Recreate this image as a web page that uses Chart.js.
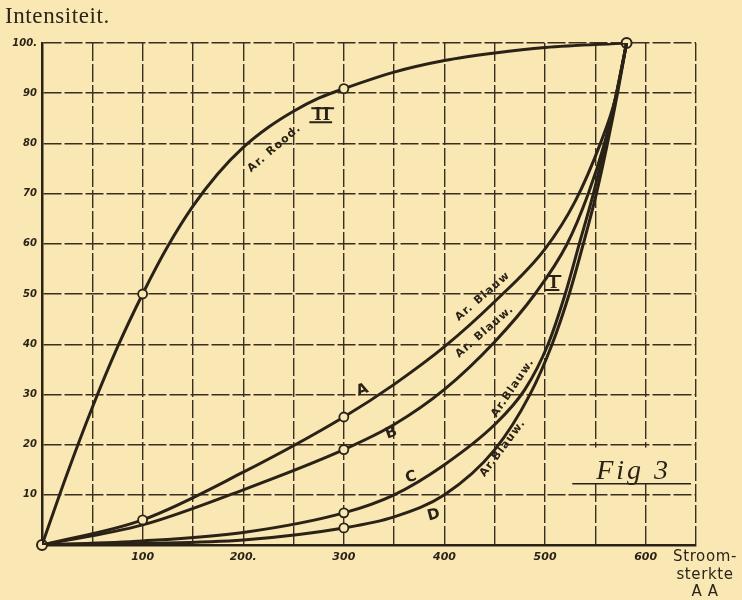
<!DOCTYPE html>
<html>
<head>
<meta charset="utf-8">
<script src="https://cdn.jsdelivr.net/npm/chart.js@4.4.1/dist/chart.umd.min.js"></script>
<style>
  html, body { margin: 0; padding: 0; background: #f9e8b4; }
  #wrap { position: relative; width: 742px; height: 600px; overflow: hidden; }
  #cv { display: block; }
  .txt { position: absolute; color: #2b2419; white-space: nowrap; }
  #ytitle { left: 5px; top: 3px; font: 23px "Liberation Serif", serif; letter-spacing: 0.6px; }
  #xtitle { left: 668px; top: 548px; width: 74px; text-align: center; font: 15px "DejaVu Sans", sans-serif; line-height: 17.5px; letter-spacing: 0.6px; }
</style>
</head>
<body>
<div id="wrap">
  <canvas id="cv" width="742" height="600"></canvas>
  <div class="txt" id="ytitle">Intensiteit.</div>
  <div class="txt" id="xtitle">Stroom-<br>sterkte<br>A A</div>
</div>
<script>
/* ── data: Intensiteit vs Stroomsterkte ── */
const xII = [0, 25, 50, 75, 100, 125, 150, 175, 200, 225, 250, 275, 300, 350, 400, 450, 500, 581];
const yII = [0, 14.2, 27.4, 39.4, 50, 59.5, 67.5, 74, 79.2, 83.2, 86.4, 89, 90.9, 94.2, 96.5, 98, 99.1, 100];
const markII = [100, 300];

const xA = [0, 100, 200, 300, 350, 400, 450, 500, 530, 555, 570, 581];
const yA = [0, 5, 14.5, 25.5, 32, 39.5, 48.5, 59, 68.5, 80, 89, 100];
const markA = [100, 300];

const xB = [0, 100, 200, 300, 350, 400, 450, 490, 522, 543, 559, 571, 581];
const yB = [0, 4, 11, 19, 24, 31, 40.5, 50, 60, 70, 80, 90, 100];
const markB = [300];

const xC = [0, 100, 200, 300, 350, 400, 450, 480, 503, 520, 534, 548, 560, 571, 581];
const yC = [0, 0.8, 2.5, 6.4, 10, 16, 24, 31, 40, 50, 60, 70, 80, 90, 100];
const markC = [300];

const xD = [0, 100, 200, 300, 350, 400, 450, 485, 507, 524, 538, 551, 562, 572, 581];
const yD = [0, 0.3, 1, 3.4, 5.6, 10, 19, 30, 40, 50, 60, 70, 80, 90, 100];
const markD = [300];

// common start / end points of all curves
const endX = [0, 581];
const endY = [0, 100];

// tick labels
const xTickValues = [100, 200, 300, 400, 500, 600];
const xTickText = ['100', '200.', '300', '400', '500', '600'];
const yTickValues = [10, 20, 30, 40, 50, 60, 70, 80, 90, 100];
const yTickText = ['10', '20', '30', '40', '50', '60', '70', '80', '90', '100.'];

/* ── styling ── */
const PAPER = '#f9e8b4';
const INK = '#2b2217';
const GRID = '#3a2e21';
const SMALL = 'bold 11px "DejaVu Sans"';
const LETTER = 'bold 15px "DejaVu Sans"';
const ROMAN = 'bold 19px "Liberation Serif"';

// hand-written notes along the curves (data coords)
const curveLabels = [
  { text: 'Ar. Rood.', x: 231, y: 79, angle: -41, font: SMALL },
  { text: 'II', x: 279, y: 85.6, angle: 0, font: ROMAN, bars: true },
  { text: 'Ar. Blauw', x: 438, y: 49.5, angle: -41, font: SMALL },
  { text: 'I', x: 509, y: 52.2, angle: 0, font: ROMAN, bars: true },
  { text: 'Ar. Blauw.', x: 440, y: 42.5, angle: -41, font: SMALL },
  { text: 'A', x: 319, y: 30.9, angle: -20, font: LETTER },
  { text: 'B', x: 347.6, y: 22.3, angle: -20, font: LETTER },
  { text: 'C', x: 367.4, y: 13.5, angle: -15, font: LETTER },
  { text: 'D', x: 390, y: 6, angle: -15, font: LETTER },
  { text: 'Ar.Blauw.', x: 468, y: 31.3, angle: -56, font: SMALL },
  { text: 'Ar.Blauw.', x: 458, y: 19.3, angle: -53, font: SMALL }
];

/* ── helpers ── */
function curve(label, xs, ys, marks) {
  return {
    label,
    data: xs.map((x, i) => ({ x, y: ys[i] })),
    borderColor: INK,
    borderWidth: 3,
    fill: false,
    cubicInterpolationMode: 'monotone',
    pointRadius: xs.map(x => marks.includes(x) ? 4.5 : 0),
    pointBorderWidth: 1.8,
    pointBorderColor: INK,
    pointBackgroundColor: PAPER,
    pointStyle: 'circle'
  };
}

const paperPlugin = {
  id: 'paper',
  beforeDraw(chart) {
    const { ctx, width, height } = chart;
    ctx.save();
    ctx.fillStyle = PAPER;
    ctx.fillRect(0, 0, width, height);
    ctx.restore();
  }
};

// "Fig 3" box: blank patch in the grid with an underline
const figPlugin = {
  id: 'fig',
  beforeDatasetsDraw(chart) {
    const { ctx, scales: { x, y } } = chart;
    const l = x.getPixelForValue(527), r = x.getPixelForValue(645);
    const t = y.getPixelForValue(19.4), b = y.getPixelForValue(12.2);
    ctx.save();
    ctx.fillStyle = PAPER;
    ctx.fillRect(l, t, r - l, b - t);
    ctx.strokeStyle = INK;
    ctx.lineWidth = 1.6;
    ctx.beginPath();
    ctx.moveTo(l, b);
    ctx.lineTo(r, b);
    ctx.stroke();
    ctx.fillStyle = INK;
    ctx.font = 'italic 28px "Liberation Serif"';
    ctx.letterSpacing = '3px';
    ctx.textAlign = 'center';
    ctx.textBaseline = 'alphabetic';
    ctx.fillText('Fig 3', x.getPixelForValue(588), y.getPixelForValue(13.2));
    ctx.restore();
  }
};

const labelsPlugin = {
  id: 'curveLabels',
  afterDatasetsDraw(chart) {
    const { ctx, scales: { x, y } } = chart;
    curveLabels.forEach(l => {
      ctx.save();
      ctx.translate(x.getPixelForValue(l.x), y.getPixelForValue(l.y));
      ctx.rotate(l.angle * Math.PI / 180);
      ctx.font = l.font;
      ctx.fillStyle = INK;
      ctx.letterSpacing = l.bars ? '1px' : '1.2px';
      ctx.textAlign = 'center';
      ctx.textBaseline = 'middle';
      ctx.fillText(l.text, 0, 0);
      if (l.bars) {
        const w = ctx.measureText(l.text).width + 6;
        ctx.strokeStyle = INK;
        ctx.lineWidth = 2;
        ctx.beginPath();
        ctx.moveTo(-w / 2, -7); ctx.lineTo(w / 2, -7);
        ctx.moveTo(-w / 2 - 2, 7); ctx.lineTo(w / 2 - 2, 7);
        ctx.stroke();
      }
      ctx.restore();
    });
  }
};

/* ── chart ── */
new Chart(document.getElementById('cv'), {
  type: 'line',
  data: {
    datasets: [
      curve('II', xII, yII, markII),
      curve('A', xA, yA, markA),
      curve('B', xB, yB, markB),
      curve('C', xC, yC, markC),
      curve('D', xD, yD, markD),
      {
        label: 'ends',
        data: endX.map((x, i) => ({ x, y: endY[i] })),
        showLine: false,
        clip: false,
        pointRadius: 5,
        pointBorderWidth: 2,
        pointBorderColor: INK,
        pointBackgroundColor: PAPER
      }
    ]
  },
  options: {
    responsive: false,
    animation: false,
    layout: { padding: { top: 43, right: 46, left: 0, bottom: 0 } },
    plugins: { legend: { display: false }, tooltip: { enabled: false } },
    scales: {
      x: {
        type: 'linear',
        min: 0, max: 650,
        afterFit(scale) { scale.height = 55; },
        grid: { color: GRID, lineWidth: 1.4, drawTicks: false },
        border: { display: true, color: INK, width: 2.5, dash: [18, 3] },
        ticks: {
          stepSize: 50,
          autoSkip: false,
          maxRotation: 0,
          padding: 6,
          color: INK,
          font: { family: 'DejaVu Sans', size: 11, style: 'italic', weight: 'bold' },
          callback: v => {
            const i = xTickValues.indexOf(v);
            return i >= 0 ? xTickText[i] : '';
          }
        }
      },
      y: {
        type: 'linear',
        min: 0, max: 100,
        afterFit(scale) { scale.width = 42; },
        grid: { color: GRID, lineWidth: 1.4, drawTicks: false },
        border: { display: true, color: INK, width: 2.5, dash: [18, 3] },
        ticks: {
          stepSize: 10,
          autoSkip: false,
          padding: 5,
          color: INK,
          font: { family: 'DejaVu Sans', size: 10, style: 'italic', weight: 'bold' },
          callback: v => {
            const i = yTickValues.indexOf(v);
            return i >= 0 ? yTickText[i] : '';
          }
        }
      }
    }
  },
  plugins: [paperPlugin, figPlugin, labelsPlugin]
});
</script>
</body>
</html>
